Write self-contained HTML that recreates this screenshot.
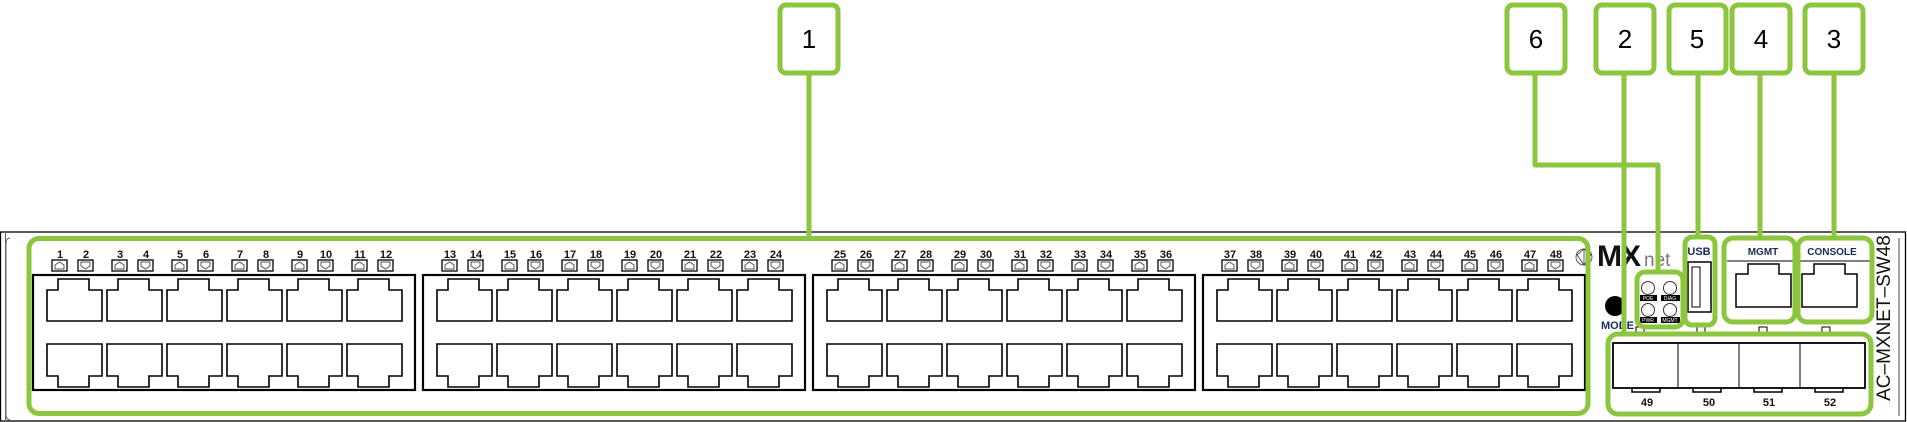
<!DOCTYPE html>
<html><head><meta charset="utf-8"><style>
html,body{margin:0;padding:0;background:#fff;}
svg{display:block;font-family:"Liberation Sans",Arial,sans-serif;}
.n{font-size:11px;font-weight:bold;fill:#111;text-anchor:middle;}
.c{font-size:26px;fill:#000;text-anchor:middle;}
</style></head><body>
<svg width="1907" height="422" viewBox="0 0 1907 422">
<defs>
<path id="pt" d="M0,11 H11 V0 H42 V11 H55 V42 H0 Z" fill="#fff" stroke="#000" stroke-width="1.6"/>
<path id="pb" d="M0,0 H55 V32 H42 V43 H11 V32 H0 Z" fill="#fff" stroke="#000" stroke-width="1.6"/>
<g id="lu"><rect x="0" y="0" width="15" height="11" fill="#fff" stroke="#000" stroke-width="1.3"/><path d="M3,9 V5 L7.5,2 L12,5 V9 Z" fill="none" stroke="#555" stroke-width="1"/></g>
<g id="ld"><rect x="0" y="0" width="15" height="11" fill="#fff" stroke="#000" stroke-width="1.3"/><path d="M3,2 V6 L7.5,9 L12,6 V2 Z" fill="none" stroke="#555" stroke-width="1"/></g>
<g id="grp">
<rect x="33" y="275" width="382" height="115" fill="none" stroke="#000" stroke-width="2.2"/>
<use href="#pt" x="47" y="279"/><use href="#pt" x="107" y="279"/><use href="#pt" x="167" y="279"/><use href="#pt" x="227" y="279"/><use href="#pt" x="287" y="279"/><use href="#pt" x="347" y="279"/>
<use href="#pb" x="47" y="344"/><use href="#pb" x="107" y="344"/><use href="#pb" x="167" y="344"/><use href="#pb" x="227" y="344"/><use href="#pb" x="287" y="344"/><use href="#pb" x="347" y="344"/>
<use href="#lu" x="52" y="260"/><use href="#ld" x="78" y="260"/><use href="#lu" x="112" y="260"/><use href="#ld" x="138" y="260"/><use href="#lu" x="172" y="260"/><use href="#ld" x="198" y="260"/><use href="#lu" x="232" y="260"/><use href="#ld" x="258" y="260"/><use href="#lu" x="292" y="260"/><use href="#ld" x="318" y="260"/><use href="#lu" x="352" y="260"/><use href="#ld" x="378" y="260"/>
</g>
</defs>
<!-- chassis -->
<rect x="0.5" y="232" width="1905" height="189" fill="#fff" stroke="#000" stroke-width="1.3"/>
<path d="M5.5,232 V421 M10,238 Q6,238 6,244 V414 Q6,420 10,420" fill="none" stroke="#666" stroke-width="1"/>
<path d="M1899,238 V416" stroke="#444" stroke-width="1"/>
<use href="#grp" x="0"/><use href="#grp" x="390"/><use href="#grp" x="780"/><use href="#grp" x="1170"/>
<g class="n">
<text x="60" y="258">1</text><text x="86" y="258">2</text><text x="120" y="258">3</text><text x="146" y="258">4</text><text x="180" y="258">5</text><text x="206" y="258">6</text><text x="240" y="258">7</text><text x="266" y="258">8</text><text x="300" y="258">9</text><text x="326" y="258">10</text><text x="360" y="258">11</text><text x="386" y="258">12</text>
<text x="450" y="258">13</text><text x="476" y="258">14</text><text x="510" y="258">15</text><text x="536" y="258">16</text><text x="570" y="258">17</text><text x="596" y="258">18</text><text x="630" y="258">19</text><text x="656" y="258">20</text><text x="690" y="258">21</text><text x="716" y="258">22</text><text x="750" y="258">23</text><text x="776" y="258">24</text>
<text x="840" y="258">25</text><text x="866" y="258">26</text><text x="900" y="258">27</text><text x="926" y="258">28</text><text x="960" y="258">29</text><text x="986" y="258">30</text><text x="1020" y="258">31</text><text x="1046" y="258">32</text><text x="1080" y="258">33</text><text x="1106" y="258">34</text><text x="1140" y="258">35</text><text x="1166" y="258">36</text>
<text x="1230" y="258">37</text><text x="1256" y="258">38</text><text x="1290" y="258">39</text><text x="1316" y="258">40</text><text x="1350" y="258">41</text><text x="1376" y="258">42</text><text x="1410" y="258">43</text><text x="1436" y="258">44</text><text x="1470" y="258">45</text><text x="1496" y="258">46</text><text x="1530" y="258">47</text><text x="1556" y="258">48</text>
</g>
<!-- logo -->
<g stroke="#333" stroke-width="0.8" fill="none"><circle cx="1584" cy="257" r="8"/><path d="M1577,255 L1584,249 L1591,255 L1584,265 Z M1584,249 V265"/></g>
<text x="1597" y="266" font-size="30" font-weight="bold" fill="#111" letter-spacing="-1">MX</text>
<text x="1644" y="266" font-size="19" fill="#777">net</text>
<!-- mode -->
<circle cx="1615" cy="306" r="10" fill="#000"/>
<text x="1601" y="329" font-size="11" font-weight="bold" fill="#1a2a55">MODE</text>
<!-- LEDs -->
<g fill="none" stroke="#333" stroke-width="1"><circle cx="1648" cy="288" r="6.5"/><circle cx="1670" cy="288" r="6.5"/><circle cx="1648" cy="310" r="6.5"/><circle cx="1670" cy="310" r="6.5"/></g>
<rect x="1640" y="295" width="17" height="6" fill="#000"/><rect x="1661" y="295" width="19" height="6" fill="#000"/>
<rect x="1640" y="317" width="17" height="6" fill="#000"/><rect x="1661" y="317" width="19" height="6" fill="#000"/>
<g font-size="5" fill="#fff" text-anchor="middle"><text x="1648" y="300">POE</text><text x="1670" y="300">DIAG</text><text x="1648" y="322">PWR</text><text x="1670" y="322">MGMT</text></g>
<!-- USB -->
<text x="1699" y="255" font-size="11" font-weight="bold" fill="#1a2a55" text-anchor="middle">USB</text>
<rect x="1688" y="262" width="23" height="50" fill="#fff" stroke="#000" stroke-width="1.5"/>
<rect x="1692" y="267" width="8" height="40" fill="none" stroke="#000" stroke-width="1"/>
<!-- MGMT/CONSOLE -->
<text x="1763" y="255" font-size="10" font-weight="bold" fill="#1a2a55" text-anchor="middle">MGMT</text>
<text x="1832" y="255" font-size="10" font-weight="bold" fill="#1a2a55" text-anchor="middle">CONSOLE</text>
<path d="M1727,261 H1870" stroke="#000" stroke-width="1"/>
<path d="M1736,274 H1748 V264 H1779 V274 H1791 V307 H1736 Z" fill="#fff" stroke="#000" stroke-width="1.5"/>
<path d="M1802,274 H1814 V264 H1845 V274 H1857 V307 H1802 Z" fill="#fff" stroke="#000" stroke-width="1.5"/>
<g fill="#fff" stroke="#000" stroke-width="1"><rect x="1697" y="327" width="8" height="6"/><rect x="1759" y="327" width="8" height="6"/><rect x="1822" y="327" width="8" height="6"/><rect x="1636" y="327" width="8" height="5"/></g>
<!-- SFP -->
<rect x="1613" y="343" width="252" height="45" fill="#fff" stroke="#000" stroke-width="1.8"/>
<path d="M1678,343 V388 M1739,343 V388 M1800,343 V388" stroke="#000" stroke-width="1"/>
<path d="M1632,388 V392 H1660 V388 M1693,388 V392 H1721 V388 M1754,388 V392 H1782 V388 M1815,388 V392 H1843 V388" fill="none" stroke="#000" stroke-width="1.5"/>
<g class="n"><text x="1647" y="406">49</text><text x="1709" y="406">50</text><text x="1769" y="406">51</text><text x="1830" y="406">52</text></g>
<text transform="translate(1890,318) rotate(-90)" font-size="19" fill="#111" text-anchor="middle">AC–MXNET–SW48</text>
<!-- green highlights -->
<g fill="none" stroke="#8cc63f" stroke-width="5" stroke-linejoin="round">
<rect x="29" y="238.5" width="1559" height="175" rx="10"/>
<rect x="1637" y="272" width="46" height="55" rx="8"/>
<rect x="1685" y="237" width="30" height="88" rx="7"/>
<rect x="1724" y="238" width="71" height="84" rx="9"/>
<rect x="1798" y="238" width="74" height="84" rx="9"/>
<rect x="1608" y="334" width="263" height="80" rx="10"/>
<path d="M809,74 V238 M1535,74 V165 H1658 V272 M1624,74 V334 M1698,74 V237 M1760,74 V238 M1834,74 V238"/>
<rect x="780" y="5" width="58" height="68" rx="6" fill="#fff"/>
<rect x="1507" y="5" width="58" height="68" rx="6" fill="#fff"/>
<rect x="1596" y="5" width="58" height="68" rx="6" fill="#fff"/>
<rect x="1669" y="5" width="57" height="68" rx="6" fill="#fff"/>
<rect x="1732" y="5" width="58" height="68" rx="6" fill="#fff"/>
<rect x="1805" y="5" width="58" height="68" rx="6" fill="#fff"/>
</g>
<g class="c"><text x="809" y="48">1</text><text x="1536" y="48">6</text><text x="1625" y="48">2</text><text x="1697" y="48">5</text><text x="1761" y="48">4</text><text x="1834" y="48">3</text></g>
</svg>
</body></html>
